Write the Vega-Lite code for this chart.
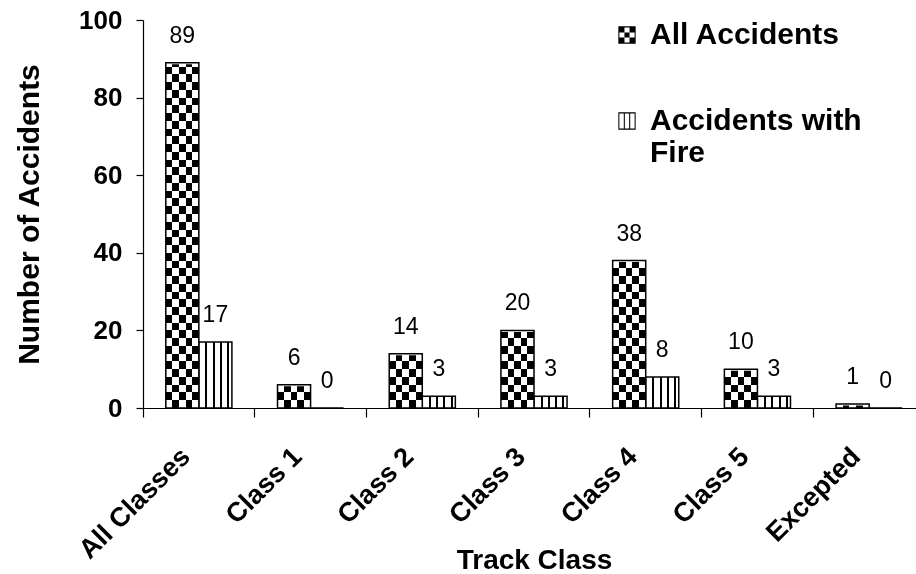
{
  "$schema": "https://vega.github.io/schema/vega-lite/v6.json",
  "autosize": "none",
  "width": 773,
  "height": 388,
  "padding": {"left": 143, "top": 20, "right": 0, "bottom": 166},
  "background": "white",
  "config": {
    "view": {"stroke": null},
    "font": "Liberation Sans",
    "axis": {"domainColor": "black", "tickColor": "black", "labelColor": "black", "titleColor": "black", "grid": false, "domainWidth": 1.2, "tickWidth": 1.2, "zindex": 1}
  },
  "data": {"values": [
    {"cls": "All Classes", "series": "All Accidents", "value": 89},
    {"cls": "All Classes", "series": "Accidents with Fire", "value": 17},
    {"cls": "Class 1", "series": "All Accidents", "value": 6},
    {"cls": "Class 1", "series": "Accidents with Fire", "value": 0},
    {"cls": "Class 2", "series": "All Accidents", "value": 14},
    {"cls": "Class 2", "series": "Accidents with Fire", "value": 3},
    {"cls": "Class 3", "series": "All Accidents", "value": 20},
    {"cls": "Class 3", "series": "Accidents with Fire", "value": 3},
    {"cls": "Class 4", "series": "All Accidents", "value": 38},
    {"cls": "Class 4", "series": "Accidents with Fire", "value": 8},
    {"cls": "Class 5", "series": "All Accidents", "value": 10},
    {"cls": "Class 5", "series": "Accidents with Fire", "value": 3},
    {"cls": "Excepted", "series": "All Accidents", "value": 1},
    {"cls": "Excepted", "series": "Accidents with Fire", "value": 0}
  ]},
  "encoding": {
    "x": {
      "field": "cls", "type": "nominal",
      "sort": ["All Classes", "Class 1", "Class 2", "Class 3", "Class 4", "Class 5", "Excepted"],
      "scale": {"range": [0, 782], "paddingInner": 0, "paddingOuter": 0},
      "axis": {"title": "Track Class", "labelAngle": -45, "bandPosition": 0, "tickSize": 9, "labelPadding": 26, "labelOffset": -22,
               "labelFont": "Liberation Sans", "labelFontWeight": "bold", "labelFontSize": 27,
               "titleFont": "Liberation Sans", "titleFontWeight": "bold", "titleFontSize": 28,
               "titleY": 160, "titleBaseline": "alphabetic"}
    },
    "xOffset": {
      "field": "series", "type": "nominal",
      "scale": {"domain": ["All Accidents", "Accidents with Fire"], "paddingInner": 0, "paddingOuter": 0.69}
    },
    "y": {"field": "value", "type": "quantitative", "stack": null,
          "scale": {"domain": [0, 100], "nice": false},
          "axis": {"title": "Number of Accidents", "values": [0, 20, 40, 60, 80, 100], "tickSize": 7, "labelPadding": 14,
                   "labelFont": "Liberation Sans", "labelFontWeight": "bold", "labelFontSize": 26,
                   "titleFont": "Liberation Sans", "titleFontWeight": "bold", "titleFontSize": 30, "titlePadding": 34}}
  },
  "layer": [
    {
      "transform": [{"filter": "datum.series == 'Accidents with Fire'"}],
      "mark": {"type": "bar", "stroke": "black", "strokeWidth": 1.5, "fill": {"gradient": "linear", "x1": 0, "y1": 0, "x2": 1, "y2": 0, "stops": [
                {"offset": 0, "color": "#fff"}, {"offset": 0.2, "color": "#fff"},
                {"offset": 0.2, "color": "#000"}, {"offset": 0.26, "color": "#000"},
                {"offset": 0.26, "color": "#fff"}, {"offset": 0.42, "color": "#fff"},
                {"offset": 0.42, "color": "#000"}, {"offset": 0.48, "color": "#000"},
                {"offset": 0.48, "color": "#fff"}, {"offset": 0.64, "color": "#fff"},
                {"offset": 0.64, "color": "#000"}, {"offset": 0.7, "color": "#000"},
                {"offset": 0.7, "color": "#fff"}, {"offset": 0.86, "color": "#fff"},
                {"offset": 0.86, "color": "#000"}, {"offset": 0.92, "color": "#000"},
                {"offset": 0.92, "color": "#fff"}, {"offset": 1, "color": "#fff"}]}}
    },
    {
      "transform": [{"filter": "datum.series == 'All Accidents'"}],
      "mark": {"type": "bar", "strokeWidth": 0, "fill": {"gradient": "linear", "x1": 0, "y1": 0, "x2": 1, "y2": 0, "stops": [
                {"offset": 0, "color": "#000"}, {"offset": 0.2, "color": "#000"},
                {"offset": 0.2, "color": "#fff"}, {"offset": 0.4, "color": "#fff"},
                {"offset": 0.4, "color": "#000"}, {"offset": 0.6, "color": "#000"},
                {"offset": 0.6, "color": "#fff"}, {"offset": 0.8, "color": "#fff"},
                {"offset": 0.8, "color": "#000"}, {"offset": 1, "color": "#000"}]}}
    },
    {
      "transform": [{"filter": "datum.series == 'All Accidents'"}],
      "mark": {"type": "bar", "blend": "difference", "strokeWidth": 0, "fill": {"gradient": "linear", "x1": 0, "y1": 0, "x2": 0, "y2": 1, "stops": [
        {"offset": 0, "color": "#000"}, {"offset": 0.02, "color": "#000"},
        {"offset": 0.02, "color": "#fff"}, {"offset": 0.04, "color": "#fff"},
        {"offset": 0.04, "color": "#000"}, {"offset": 0.06, "color": "#000"},
        {"offset": 0.06, "color": "#fff"}, {"offset": 0.08, "color": "#fff"},
        {"offset": 0.08, "color": "#000"}, {"offset": 0.1, "color": "#000"},
        {"offset": 0.1, "color": "#fff"}, {"offset": 0.12, "color": "#fff"},
        {"offset": 0.12, "color": "#000"}, {"offset": 0.14, "color": "#000"},
        {"offset": 0.14, "color": "#fff"}, {"offset": 0.16, "color": "#fff"},
        {"offset": 0.16, "color": "#000"}, {"offset": 0.18, "color": "#000"},
        {"offset": 0.18, "color": "#fff"}, {"offset": 0.2, "color": "#fff"},
        {"offset": 0.2, "color": "#000"}, {"offset": 0.22, "color": "#000"},
        {"offset": 0.22, "color": "#fff"}, {"offset": 0.24, "color": "#fff"},
        {"offset": 0.24, "color": "#000"}, {"offset": 0.26, "color": "#000"},
        {"offset": 0.26, "color": "#fff"}, {"offset": 0.28, "color": "#fff"},
        {"offset": 0.28, "color": "#000"}, {"offset": 0.3, "color": "#000"},
        {"offset": 0.3, "color": "#fff"}, {"offset": 0.32, "color": "#fff"},
        {"offset": 0.32, "color": "#000"}, {"offset": 0.34, "color": "#000"},
        {"offset": 0.34, "color": "#fff"}, {"offset": 0.36, "color": "#fff"},
        {"offset": 0.36, "color": "#000"}, {"offset": 0.38, "color": "#000"},
        {"offset": 0.38, "color": "#fff"}, {"offset": 0.4, "color": "#fff"},
        {"offset": 0.4, "color": "#000"}, {"offset": 0.42, "color": "#000"},
        {"offset": 0.42, "color": "#fff"}, {"offset": 0.44, "color": "#fff"},
        {"offset": 0.44, "color": "#000"}, {"offset": 0.46, "color": "#000"},
        {"offset": 0.46, "color": "#fff"}, {"offset": 0.48, "color": "#fff"},
        {"offset": 0.48, "color": "#000"}, {"offset": 0.5, "color": "#000"},
        {"offset": 0.5, "color": "#fff"}, {"offset": 0.52, "color": "#fff"},
        {"offset": 0.52, "color": "#000"}, {"offset": 0.54, "color": "#000"},
        {"offset": 0.54, "color": "#fff"}, {"offset": 0.56, "color": "#fff"},
        {"offset": 0.56, "color": "#000"}, {"offset": 0.58, "color": "#000"},
        {"offset": 0.58, "color": "#fff"}, {"offset": 0.6, "color": "#fff"},
        {"offset": 0.6, "color": "#000"}, {"offset": 0.62, "color": "#000"},
        {"offset": 0.62, "color": "#fff"}, {"offset": 0.64, "color": "#fff"},
        {"offset": 0.64, "color": "#000"}, {"offset": 0.66, "color": "#000"},
        {"offset": 0.66, "color": "#fff"}, {"offset": 0.68, "color": "#fff"},
        {"offset": 0.68, "color": "#000"}, {"offset": 0.7, "color": "#000"},
        {"offset": 0.7, "color": "#fff"}, {"offset": 0.72, "color": "#fff"},
        {"offset": 0.72, "color": "#000"}, {"offset": 0.74, "color": "#000"},
        {"offset": 0.74, "color": "#fff"}, {"offset": 0.76, "color": "#fff"},
        {"offset": 0.76, "color": "#000"}, {"offset": 0.78, "color": "#000"},
        {"offset": 0.78, "color": "#fff"}, {"offset": 0.8, "color": "#fff"},
        {"offset": 0.8, "color": "#000"}, {"offset": 0.82, "color": "#000"},
        {"offset": 0.82, "color": "#fff"}, {"offset": 0.84, "color": "#fff"},
        {"offset": 0.84, "color": "#000"}, {"offset": 0.86, "color": "#000"},
        {"offset": 0.86, "color": "#fff"}, {"offset": 0.88, "color": "#fff"},
        {"offset": 0.88, "color": "#000"}, {"offset": 0.9, "color": "#000"},
        {"offset": 0.9, "color": "#fff"}, {"offset": 0.92, "color": "#fff"},
        {"offset": 0.92, "color": "#000"}, {"offset": 0.94, "color": "#000"},
        {"offset": 0.94, "color": "#fff"}, {"offset": 0.96, "color": "#fff"},
        {"offset": 0.96, "color": "#000"}, {"offset": 0.98, "color": "#000"},
        {"offset": 0.98, "color": "#fff"}, {"offset": 1, "color": "#fff"}]}},
      "encoding": {
        "y": {"datum": 100, "type": "quantitative"},
        "y2": {"datum": 0}
      }
    },
    {
      "transform": [{"filter": "datum.series == 'All Accidents'"}],
      "mark": {"type": "bar", "fill": "white", "stroke": "white", "strokeWidth": 3},
      "encoding": {
        "y2": {"datum": 100}
      }
    },
    {
      "transform": [{"filter": "datum.series == 'All Accidents'"}],
      "mark": {"type": "bar", "fillOpacity": 0, "stroke": "black", "strokeWidth": 1.5}
    },
    {
      "mark": {"type": "point", "opacity": 0, "filled": true, "color": "black"},
      "encoding": {
        "shape": {
          "field": "series", "type": "nominal",
          "scale": {
            "domain": ["All Accidents", "Accidents with Fire"],
            "range": [
              "M-1,-1H1V1H-1Z M-0.88,-0.88V0.88H0.88V-0.88Z M-0.88,-0.88H-0.293V-0.293H-0.88Z M0.293,-0.88H0.88V-0.293H0.293Z M-0.293,-0.293H0.293V0.293H-0.293Z M-0.88,0.293H-0.293V0.88H-0.88Z M0.293,0.293H0.88V0.88H0.293Z",
              "M-1,-1H1V1H-1Z M-0.88,-0.88V0.88H0.88V-0.88Z M-0.37,-0.88H-0.25V0.88H-0.37Z M0.25,-0.88H0.37V0.88H0.25Z"
            ]
          },
          "legend": {
            "title": null, "orient": "none", "legendX": 469, "legendY": 0, "zindex": 2,
            "symbolSize": 300, "symbolFillColor": "black", "symbolOpacity": 1,
            "labelFont": "Liberation Sans", "labelFontWeight": "bold", "labelFontSize": 30, "labelColor": "black",
            "labelLimit": 400, "labelOffset": 8, "rowPadding": 56,
            "labelExpr": "datum.label == 'Accidents with Fire' ? ['Accidents with', 'Fire'] : datum.label"
          }
        }
      }
    },
    {
      "mark": {"type": "text", "baseline": "alphabetic", "dy": -20, "font": "Liberation Sans", "fontSize": 23, "color": "black"},
      "encoding": {
        "text": {"field": "value", "type": "quantitative"}
      }
    }
  ]
}
